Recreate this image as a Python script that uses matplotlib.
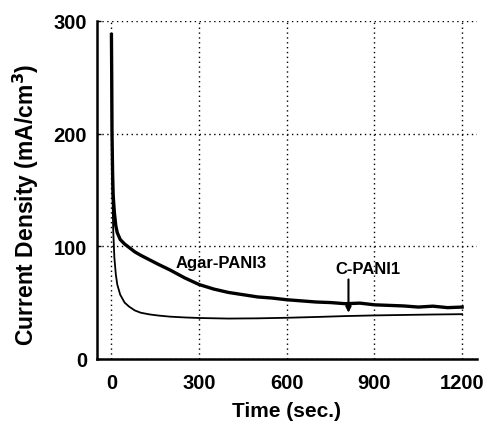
import numpy as np
import matplotlib.pyplot as plt

plt.rcParams['font.family'] = ['Liberation Sans', 'DejaVu Sans']
plt.rcParams['font.weight'] = 'bold'

# Agar-PANI3 (thick curve)
t_agar = [0, 1, 2, 4, 6, 10, 15, 20, 30, 45, 60, 80, 100, 130, 160, 200, 250, 300,
          350, 400, 450, 500, 550, 600, 650, 700, 750, 800, 850, 900, 950, 1000, 1050, 1100, 1150, 1200]
j_agar = [288, 250, 200, 165, 145, 130, 118, 112, 106, 102, 99, 95, 92, 88, 84, 79, 72, 66,
          62, 59, 57, 55, 54, 52.5, 51.5, 50.5, 50, 49, 49.5, 48, 47.5, 47, 46, 46.8, 45.5, 46]

# C-PANI1 (thin curve)
t_cpani = [0, 1, 2, 4, 6, 10, 15, 20, 30, 45, 60, 80, 100, 130, 160, 200, 250, 300,
           400, 500, 600, 700, 800, 900, 1000, 1100, 1200]
j_cpani = [285, 230, 180, 140, 115, 90, 75, 66, 57, 50, 46.5, 43, 41, 39.5, 38.5, 37.5, 36.8, 36.3,
           35.8, 36, 36.5, 37.2, 38, 38.6, 39, 39.4, 39.7]

xticks = [0, 300, 600, 900, 1200]
yticks = [0, 100, 200, 300]

fig = plt.figure(figsize=(4.89, 4.31), dpi=100)
ax = fig.add_axes([0.198, 0.165, 0.777, 0.784])

ax.plot(t_cpani, j_cpani, color='black', linewidth=1.3)
ax.plot(t_agar, j_agar, color='black', linewidth=2.4)

ax.text(375, 86, 'Agar-PANI3', ha='center', va='center', fontsize=12, fontweight='bold')
ax.text(878, 80, 'C-PANI1', ha='center', va='center', fontsize=12, fontweight='bold')
ax.annotate('', xy=(811, 38.5), xytext=(811, 73),
            arrowprops=dict(arrowstyle='-|>', color='black', lw=1.5, mutation_scale=8))

ax.set_xlim(-50, 1250)
ax.set_ylim(0, 300)
ax.set_xticks(xticks)
ax.set_yticks(yticks)
ax.grid(True, linestyle=(0, (1, 2.5)), color='black', linewidth=1)
ax.spines['top'].set_visible(False)
ax.spines['right'].set_visible(False)
ax.spines['left'].set_linewidth(1.8)
ax.spines['bottom'].set_linewidth(1.8)
ax.tick_params(axis='both', direction='in', length=3, width=1, labelsize=14.5)
ax.tick_params(axis='x', pad=10, length=0)
ax.tick_params(axis='y', pad=7)
for lab in ax.get_xticklabels() + ax.get_yticklabels():
    lab.set_fontweight('bold')

ax.set_xlabel('Time (sec.)', fontsize=15, fontweight='bold')
ax.set_ylabel('Current Density (mA/cm$^\\mathbf{3}$)', fontsize=16.5, fontweight='bold')
ax.xaxis.set_label_coords(0.5, -0.126)
ax.yaxis.set_label_coords(-0.147, 0.46)

plt.savefig('out.png', dpi=100)
